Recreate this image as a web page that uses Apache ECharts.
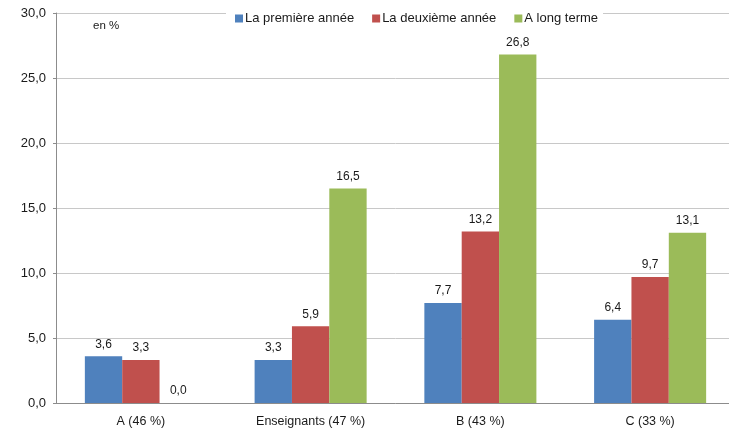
<!DOCTYPE html>
<html>
<head>
<meta charset="utf-8">
<script src="https://cdn.jsdelivr.net/npm/echarts@6/dist/echarts.min.js"></script>
<style>
  html, body { margin: 0; padding: 0; background: #ffffff; overflow: hidden; }
  /* the plot runs slightly past the right edge of the window */
  #chart { width: 735px; height: 436px; }
</style>
</head>
<body>
<div id="chart"></div>
<script>
// Categories and series values (en %)
const categories = ['A (46 %)', 'Enseignants (47 %)', 'B (43 %)', 'C (33 %)'];
const premiereAnnee = [3.6, 3.3, 7.7, 6.4];
const deuxiemeAnnee = [3.3, 5.9, 13.2, 9.7];
const longTerme = [0.0, 16.5, 26.8, 13.1];
const seriesNames = ['La première année', 'La deuxième année', 'A long terme'];
const seriesColors = ['#4F81BD', '#C0504D', '#9BBB59'];

const FONT = 'Liberation Sans, Arial, sans-serif';
const fmt = v => v.toFixed(1).replace('.', ',');

const chart = echarts.init(document.getElementById('chart'), null, { renderer: 'canvas' });

function barSeries(name, data, color) {
  return {
    name: name,
    type: 'bar',
    data: data,
    barGap: '0%',
    barCategoryGap: '34%',
    itemStyle: { color: color },
    label: {
      show: true,
      position: 'top',
      distance: 6,
      fontFamily: FONT,
      fontSize: 12,
      color: '#1a1a1a',
      formatter: p => fmt(p.value)
    },
    emphasis: { disabled: true },
    animation: false
  };
}

chart.setOption({
  animation: false,
  backgroundColor: '#ffffff',
  textStyle: { fontFamily: FONT },
  grid: { left: 56, right: 0, top: 13, height: 390, containLabel: false },
  legend: {
    data: seriesNames,
    top: 11,
    left: 226,
    itemWidth: 8,
    itemHeight: 8,
    itemGap: 18,
    icon: 'rect',
    backgroundColor: '#ffffff',
    padding: [1, 5, 1, 9],
    textStyle: { fontFamily: FONT, fontSize: 13, color: '#1a1a1a', padding: [0, 0, 0, -3] }
  },
  graphic: [{
    type: 'text',
    left: 93,
    top: 20,
    style: { text: 'en %', fontFamily: FONT, fontSize: 11.5, fill: '#1a1a1a' }
  }],
  xAxis: {
    type: 'category',
    data: categories,
    axisLine: { show: true, lineStyle: { color: '#8c8c8c', width: 1 } },
    axisTick: { show: false },
    axisLabel: { fontFamily: FONT, fontSize: 12.5, color: '#1a1a1a', margin: 12 }
  },
  yAxis: {
    type: 'value',
    min: 0,
    max: 30,
    interval: 5,
    axisLine: { show: true, lineStyle: { color: '#8c8c8c', width: 1 } },
    axisTick: { show: true, length: 3, lineStyle: { color: '#8c8c8c' } },
    splitLine: { show: true, lineStyle: { color: '#c8c8c8', width: 1 } },
    axisLabel: {
      fontFamily: FONT, fontSize: 13, color: '#1a1a1a', margin: 10,
      formatter: v => fmt(v)
    }
  },
  series: [
    barSeries(seriesNames[0], premiereAnnee, seriesColors[0]),
    barSeries(seriesNames[1], deuxiemeAnnee, seriesColors[1]),
    barSeries(seriesNames[2], longTerme, seriesColors[2])
  ]
});
</script>
</body>
</html>
